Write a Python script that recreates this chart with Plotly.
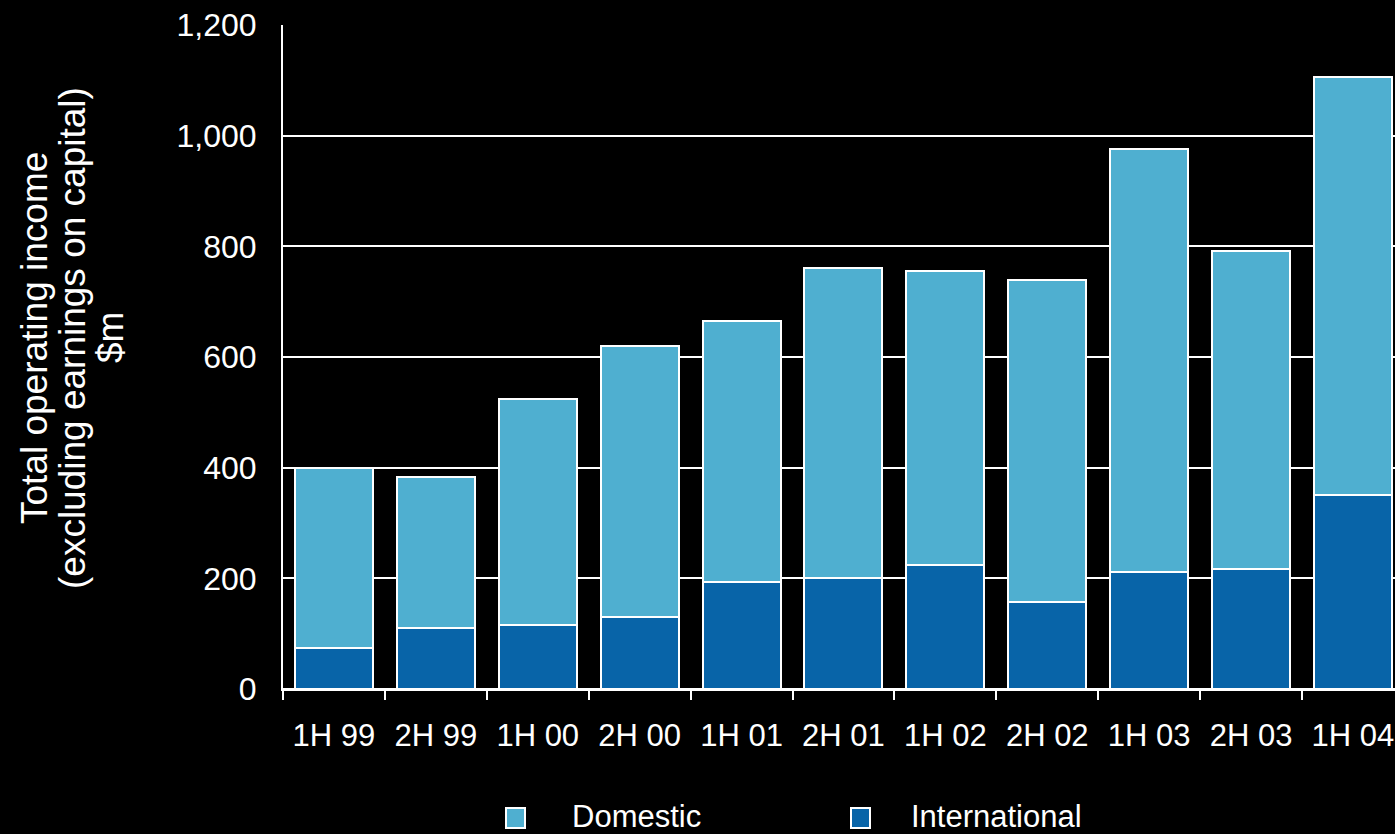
import plotly.graph_objects as go

# Half-year periods
periods = ["1H 99", "2H 99", "1H 00", "2H 00", "1H 01", "2H 01",
           "1H 02", "2H 02", "1H 03", "2H 03", "1H 04"]

# Operating income by segment, $m
international = [75, 110, 115, 130, 193, 200, 225, 157, 212, 217, 350]
domestic = [325, 274, 410, 490, 472, 560, 530, 583, 764, 575, 756]

y_ticks = [0, 200, 400, 600, 800, 1000, 1200]

title_lines = ["Total operating income", "(excluding earnings on capital)", "$m"]
legend_names = ["Domestic", "International"]

DOMESTIC_COLOR = "#4FAFD0"
INTL_COLOR = "#0864A8"
WHITE = "#FFFFFF"
FONT = "Liberation Sans, Arial, sans-serif"

W, H = 1395, 834
ML, MR, MT, MB = 283, 0, 25, 145
PW, PH = W - ML - MR, H - MT - MB


def px_x(px):
    return (px - ML) / PW


def px_y(py):
    return (H - MB - py) / PH


fig = go.Figure()
fig.add_trace(go.Bar(
    x=periods, y=international, name=legend_names[1],
    marker=dict(color=INTL_COLOR, line=dict(color=WHITE, width=2)),
))
fig.add_trace(go.Bar(
    x=periods, y=domestic, name=legend_names[0],
    marker=dict(color=DOMESTIC_COLOR, line=dict(color=WHITE, width=2)),
))

fig.update_layout(
    width=W, height=H,
    margin=dict(l=ML, r=MR, t=MT, b=MB, pad=0),
    paper_bgcolor="black", plot_bgcolor="black",
    barmode="stack", bargap=0.235,
    showlegend=False,
    font=dict(family=FONT, color=WHITE, size=31),
)

fig.update_xaxes(
    type="category", range=[-0.5, -0.5 + PW / 101.9],
    showgrid=False, zeroline=False,
    showline=True, linecolor=WHITE, linewidth=2,
    ticks="outside", tickson="boundaries", ticklen=9, tickwidth=2, tickcolor=WHITE,
    tickfont=dict(size=31, color=WHITE, family=FONT),
    ticklabelstandoff=18,
)
fig.update_yaxes(
    range=[0, 1200], tickvals=y_ticks, tickformat=",d",
    showgrid=True, gridcolor=WHITE, gridwidth=2,
    zeroline=True, zerolinecolor=WHITE, zerolinewidth=2,
    showline=True, linecolor=WHITE, linewidth=2,
    ticks="", ticklabelstandoff=18,
    tickfont=dict(size=32, color=WHITE, family=FONT),
)

# Rotated axis title, one annotation per line for tight line spacing
for line, cx in zip(title_lines, [34, 72, 110]):
    fig.add_annotation(
        text=line, xref="paper", yref="paper",
        x=px_x(cx), y=px_y(338), xanchor="center", yanchor="middle",
        textangle=-90, showarrow=False,
        font=dict(size=37, color=WHITE, family=FONT),
    )

# Legend row along the bottom
legend_items = [(legend_names[0], DOMESTIC_COLOR, 506, 571),
                (legend_names[1], INTL_COLOR, 851, 910)]
for name, color, sx, tx in legend_items:
    fig.add_shape(
        type="rect", xref="paper", yref="paper",
        x0=px_x(sx), x1=px_x(sx + 19), y0=px_y(808), y1=px_y(828),
        fillcolor=color, line=dict(color=WHITE, width=2),
    )
    fig.add_annotation(
        text=name, xref="paper", yref="paper",
        x=px_x(tx), y=px_y(816), xanchor="left", yanchor="middle",
        borderpad=0, showarrow=False,
        font=dict(size=31, color=WHITE, family=FONT),
    )

fig.write_html("out.html")
